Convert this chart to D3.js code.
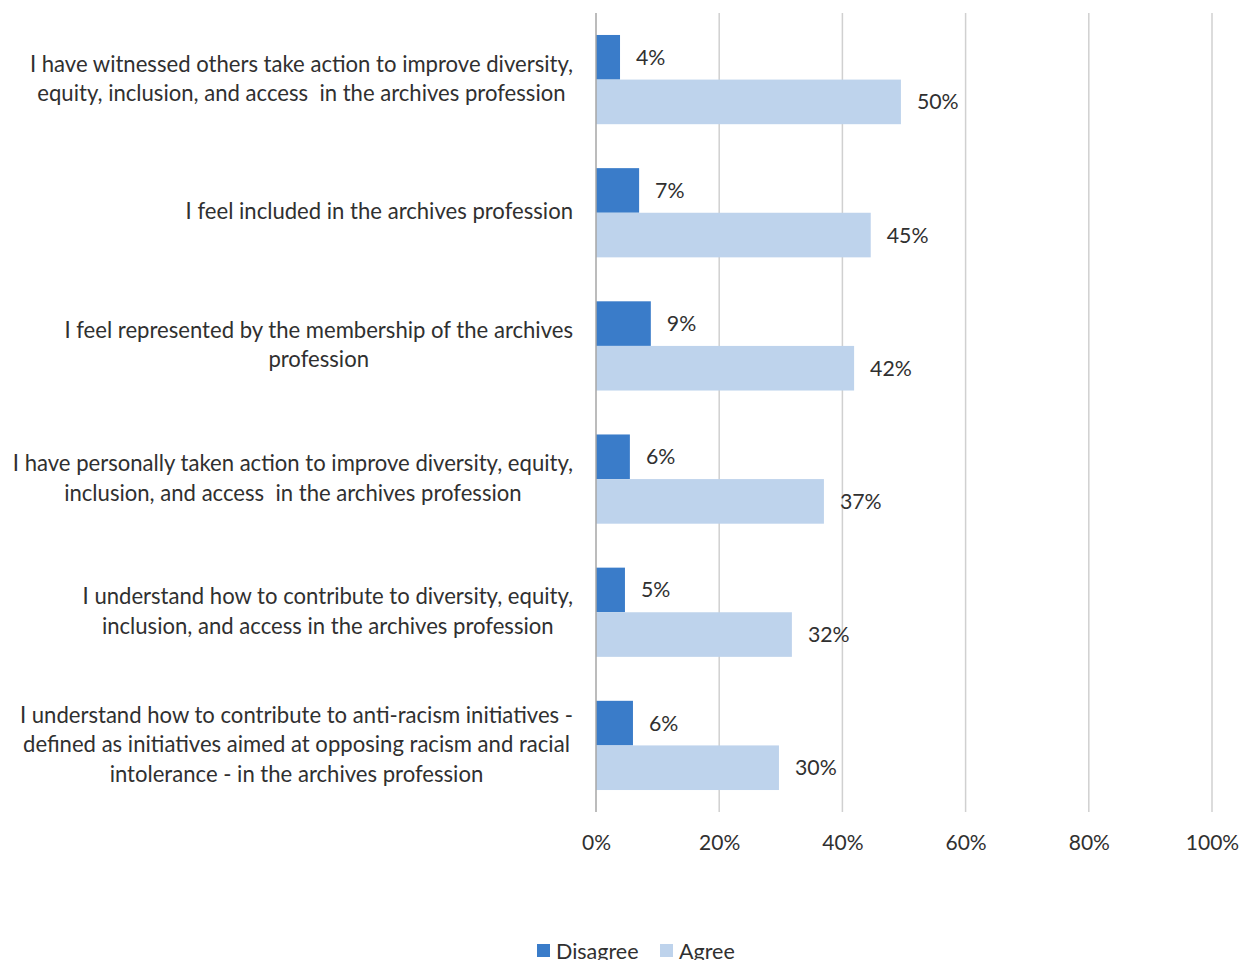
<!DOCTYPE html>
<html><head><meta charset="utf-8">
<script src="https://cdn.jsdelivr.net/npm/d3@7"></script>
<style>body{margin:0;background:#fff;} text{font-family:Lato, "Open Sans", sans-serif;}</style>
</head><body>
<svg id="c" width="1244" height="960"></svg>
<script>
const categories = [
  "I have witnessed others take action to improve diversity,|equity, inclusion, and access  in the archives profession",
  "I feel included in the archives profession",
  "I feel represented by the membership of the archives|profession",
  "I have personally taken action to improve diversity, equity,|inclusion, and access  in the archives profession",
  "I understand how to contribute to diversity, equity,|inclusion, and access in the archives profession",
  "I understand how to contribute to anti-racism initiatives -|defined as initiatives aimed at opposing racism and racial|intolerance - in the archives profession"
];
const seriesNames = ["Disagree", "Agree"];
const disagree = [3.9, 7.0, 8.9, 5.5, 4.7, 6.0];
const agree = [49.5, 44.6, 41.9, 37.0, 31.8, 29.7];
const xTicks = [0, 20, 40, 60, 80, 100];
const colors = ["#3A7CC9", "#BED3EC"];

const svg = d3.select("#c");
const x = d3.scaleLinear().domain([0, 100]).range([596, 1212]);
const y = d3.scaleBand().domain(d3.range(categories.length)).range([13, 812]).paddingInner(0.33).paddingOuter(0.165);
const sub = d3.scaleBand().domain([0, 1]).range([0, y.bandwidth()]);
const textColor = "#303030";
const fw = 400;

// gridlines
svg.append("g").selectAll("line").data(xTicks.slice(1)).join("line")
  .attr("x1", d => x(d)).attr("x2", d => x(d)).attr("y1", 13).attr("y2", 812)
  .attr("stroke", "#d0d0d0").attr("stroke-width", 1.5);

// bars
const series = [disagree, agree];
series.forEach((vals, si) => {
  svg.append("g").selectAll("rect").data(vals).join("rect")
    .attr("x", x(0)).attr("y", (d, i) => y(i) + sub(si))
    .attr("width", d => x(d) - x(0)).attr("height", sub.bandwidth())
    .attr("fill", colors[si]);
  svg.append("g").selectAll("text").data(vals).join("text")
    .attr("x", d => x(d) + 16).attr("y", (d, i) => y(i) + sub(si) + sub.bandwidth() / 2)
    .attr("dy", "0.35em").attr("font-size", 21.3).attr("font-weight", fw).attr("fill", textColor)
    .text(d => Math.round(d) + "%");
});

// axis line at 0
svg.append("line").attr("x1", x(0)).attr("x2", x(0)).attr("y1", 13).attr("y2", 812)
  .attr("stroke", "#a6a6a6").attr("stroke-width", 1.5);

// x axis tick labels
const xAxis = d3.axisBottom(x).tickValues(xTicks).tickFormat(d => d + "%").tickSize(0).tickPadding(0);
const gx = svg.append("g").attr("transform", "translate(0,835)").call(xAxis);
gx.select(".domain").remove();
gx.selectAll("text").attr("font-size", 21).attr("font-weight", fw).attr("fill", textColor)
  .attr("font-family", "Lato, 'Open Sans', sans-serif");

// category labels
const lh = 29.5;
categories.forEach((c, i) => {
  const lines = c.split("|");
  const cy = y(i) + y.bandwidth() / 2 - 1;
  const t = svg.append("text").attr("text-anchor", "middle").attr("font-size", 22.1).attr("font-weight", fw)
    .attr("fill", textColor).attr("xml:space", "preserve").style("white-space", "pre");
  lines.forEach((l, j) => {
    t.append("tspan").attr("x", 0).attr("y", cy + (j - (lines.length - 1) / 2) * lh).attr("dy", "0.35em").text(l);
  });
  const w = d3.max(t.selectAll("tspan").nodes(), n => n.getComputedTextLength());
  t.selectAll("tspan").attr("x", 573 - w / 2);
});

// legend
const lg = svg.append("g").attr("transform", "translate(537,951)");
const lx = [0, 123];
seriesNames.forEach((s, i) => {
  lg.append("rect").attr("x", lx[i]).attr("y", -7).attr("width", 13).attr("height", 13).attr("fill", colors[i]);
  lg.append("text").attr("x", lx[i] + 19).attr("y", 0).attr("dy", "0.35em").attr("font-size", 21.5)
    .attr("font-weight", fw).attr("fill", textColor).text(s);
});
</script>
</body></html>
